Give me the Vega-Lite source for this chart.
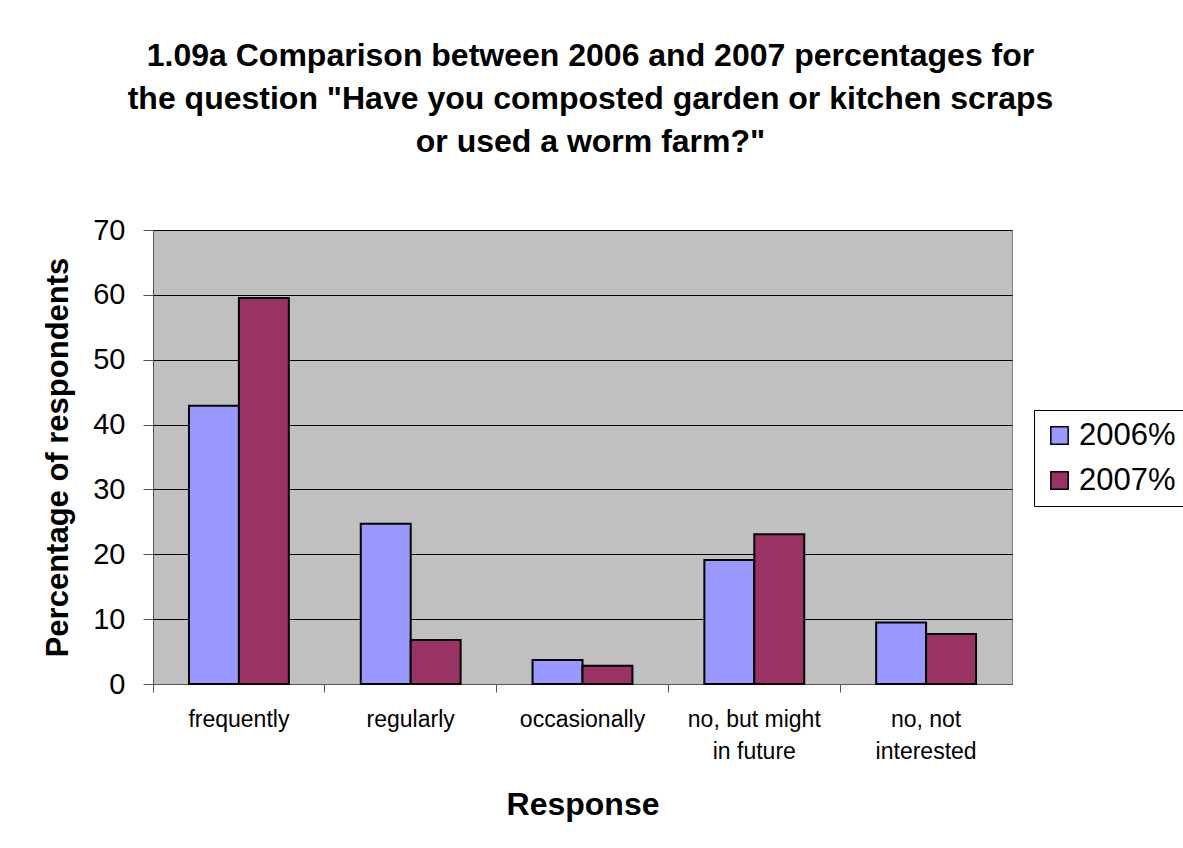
{
  "$schema": "https://vega.github.io/schema/vega-lite/v6.json",
  "autosize": "none",
  "width": 859,
  "height": 454,
  "padding": {"left": 153, "top": 230, "right": 171, "bottom": 164},
  "background": "white",
  "title": {
    "text": ["1.09a Comparison between 2006 and 2007 percentages for", "the question \"Have you composted garden or kitchen scraps", "or used a worm farm?\""],
    "font": "Liberation Sans",
    "fontSize": 32,
    "fontWeight": "bold",
    "color": "black",
    "lineHeight": 43,
    "anchor": "middle",
    "dx": 8,
    "offset": 57
  },
  "data": {
    "values": [
      {"response": "frequently", "year": "2006%", "pct": 42.9},
      {"response": "frequently", "year": "2007%", "pct": 59.5},
      {"response": "regularly", "year": "2006%", "pct": 24.7},
      {"response": "regularly", "year": "2007%", "pct": 6.8},
      {"response": "occasionally", "year": "2006%", "pct": 3.7},
      {"response": "occasionally", "year": "2007%", "pct": 2.8},
      {"response": "no, but might in future", "year": "2006%", "pct": 19.1},
      {"response": "no, but might in future", "year": "2007%", "pct": 23.1},
      {"response": "no, not interested", "year": "2006%", "pct": 9.5},
      {"response": "no, not interested", "year": "2007%", "pct": 7.7}
    ]
  },
  "mark": {"type": "bar", "stroke": "black", "strokeWidth": 2},
  "encoding": {
    "x": {
      "field": "response",
      "type": "nominal",
      "sort": null,
      "title": "Response",
      "scale": {"paddingInner": 0, "paddingOuter": 0},
      "axis": {
        "labelAngle": 0,
        "labelFont": "Liberation Sans",
        "labelFontSize": 23,
        "labelColor": "black",
        "labelPadding": 16,
        "labelLineHeight": 32,
        "labelExpr": "datum.value == 'no, but might in future' ? ['no, but might', 'in future'] : datum.value == 'no, not interested' ? ['no, not', 'interested'] : datum.value",
        "bandPosition": 0,
        "tickColor": "#555555",
        "tickSize": 8,
        "domainColor": "#555555",
        "titleFont": "Liberation Sans",
        "titleFontSize": 32,
        "titleFontWeight": "bold",
        "titleColor": "black",
        "titlePadding": 26,
        "grid": false
      }
    },
    "xOffset": {"field": "year", "type": "nominal", "scale": {"paddingOuter": 0.72, "paddingInner": 0}},
    "y": {
      "field": "pct",
      "type": "quantitative",
      "title": "Percentage of respondents",
      "scale": {"domain": [0, 70], "nice": false},
      "axis": {
        "values": [0, 10, 20, 30, 40, 50, 60, 70],
        "labelFont": "Liberation Sans",
        "labelFontSize": 29,
        "labelColor": "black",
        "labelPadding": 18,
        "tickColor": "#555555",
        "tickSize": 10,
        "domainColor": "#555555",
        "gridColor": "black",
        "gridWidth": 1,
        "titleFont": "Liberation Sans",
        "titleFontSize": 31,
        "titleFontWeight": "bold",
        "titleColor": "black",
        "titlePadding": 18
      }
    },
    "color": {
      "field": "year",
      "type": "nominal",
      "scale": {"domain": ["2006%", "2007%"], "range": ["#9999FF", "#993366"]},
      "legend": {
        "title": null,
        "orient": "none",
        "legendX": 881,
        "legendY": 180,
        "symbolType": "square",
        "symbolSize": 300,
        "symbolStrokeColor": "black",
        "symbolStrokeWidth": 1.5,
        "symbolOpacity": 1,
        "labelFont": "Liberation Sans",
        "labelFontSize": 31,
        "labelColor": "black",
        "rowPadding": 13,
        "padding": 10,
        "strokeColor": "black",
        "fillColor": "white"
      }
    }
  },
  "config": {
    "view": {"fill": "#C0C0C0", "stroke": "#808080", "strokeWidth": 1}
  }
}
